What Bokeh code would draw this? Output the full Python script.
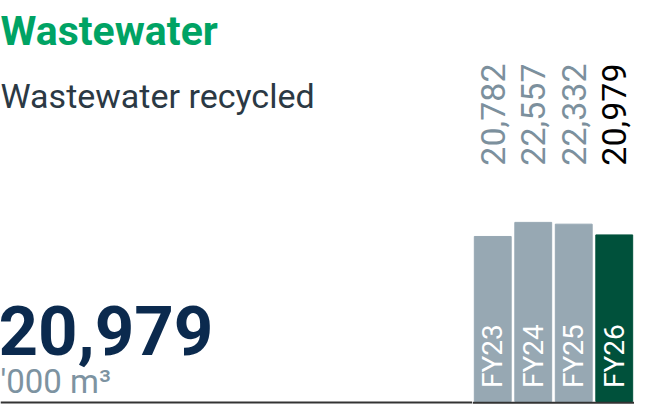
import math
from bokeh.plotting import figure
from bokeh.layouts import row
from bokeh.models import ColumnDataSource, Label, Range1d, FactorRange, Span
from bokeh.core.properties import value
from bokeh.embed import file_html
from bokeh.resources import INLINE

# ---- data ----
years = ["FY23", "FY24", "FY25", "FY26"]
recycled = [20782, 22557, 22332, 20979]
bar_colors = ["#97a8b3", "#97a8b3", "#97a8b3", "#00513b"]
value_colors = ["#7c909d", "#7c909d", "#7c909d", "#000000"]
title_text = "Wastewater"
subtitle_text = "Wastewater recycled"
unit_text = "'000 m\u00b3"

FONT = "Roboto"
H = 404
LW = 472
RW = 634 - LW
Y_TOP = 50500
K = (H - 3) / Y_TOP          # px per unit
Y_BOT = -3 / K

# ---- left panel: texts ----
left = figure(width=LW, height=H, output_backend="svg", toolbar_location=None,
              x_range=Range1d(0, LW), y_range=Range1d(H, 0),
              min_border=0)
left.outline_line_color = None
left.grid.visible = False
left.axis.visible = False

left.add_layout(Label(x=0, y=30, text=title_text,
                      text_font=FONT, text_font_style="bold", text_font_size="41px",
                      text_color="#00a364", text_baseline="alphabetic"))
left.add_layout(Label(x=0, y=95, text=subtitle_text,
                      text_font=FONT, text_font_size="34px",
                      text_color="#2b3944", text_baseline="alphabetic"))
left.add_layout(Label(x=-2, y=330, text=f"{recycled[-1]:,}",
                      text_font=FONT, text_font_style="bold", text_font_size="69px",
                      text_color="#0b2a4e", text_baseline="alphabetic"))
left.add_layout(Label(x=0, y=381, text=unit_text,
                      text_font=FONT, text_font_size="33px",
                      text_color="#7d93a1", text_baseline="alphabetic"))
left.add_layout(Span(location=402, dimension="width", line_color="#333333", line_width=2))

# ---- right panel: bars ----
src = ColumnDataSource(dict(
    year=years,
    val=recycled,
    color=bar_colors,
    vcolor=value_colors,
    vtext=[f"{v:,}" for v in recycled],
    vy=[29700] * len(years),
    ly=[1700] * len(years),
))

right = figure(width=RW, height=H, output_backend="svg", toolbar_location=None,
               x_range=FactorRange(*years, range_padding=0), y_range=Range1d(Y_BOT, Y_TOP),
               min_border=0)
right.outline_line_color = None
right.grid.visible = False
right.axis.visible = False

right.vbar(x="year", top="val", bottom=0, width=0.91, color="color", source=src)
right.text(x="year", y="vy", text="vtext", angle=math.pi / 2, text_align="left",
           text_baseline="middle", text_color="vcolor", text_font=value(FONT),
           text_font_size="34px", source=src)
right.text(x="year", y="ly", text="year", angle=math.pi / 2, text_align="left",
           text_baseline="middle", text_color="white", text_font=value(FONT),
           text_font_size="28px", source=src)
right.add_layout(Span(location=Y_BOT * 0.4, dimension="width", line_color="#333333", line_width=2))

p = row(left, right, spacing=0)
open("out.html", "w").write(file_html(p, INLINE))
